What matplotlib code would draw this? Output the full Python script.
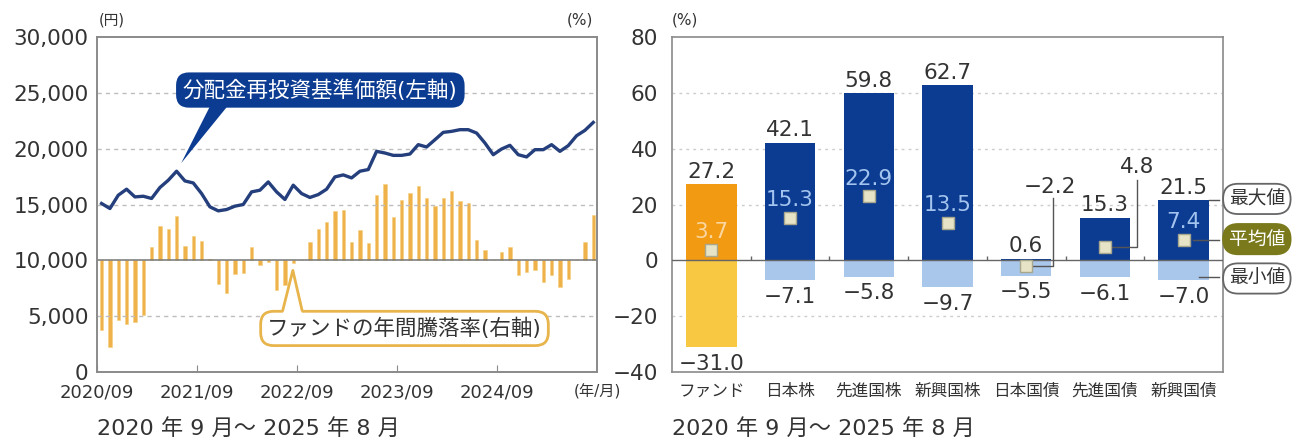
import numpy as np
import matplotlib
matplotlib.use("Agg")
import matplotlib.pyplot as plt
from matplotlib.patches import Polygon

plt.rcParams['font.family'] = ['DejaVu Sans', 'Noto Sans CJK JP']

# ---- left chart data (monthly, 2020/09 - 2025/08) ----
nav = [15090, 14640, 15830, 16370, 15680, 15740, 15540, 16520, 17170, 17980,
       17110, 16930, 15980, 14790, 14430, 14550, 14850, 15000, 16130, 16280,
       17020, 16130, 15450, 16730, 15980, 15630, 15890, 16370, 17470, 17650,
       17380, 17980, 18130, 19760, 19610, 19400, 19400, 19520, 20360, 20150,
       20800, 21460, 21550, 21700, 21700, 21400, 20510, 19460, 19970, 20300,
       19460, 19260, 19910, 19910, 20360, 19760, 20270, 21160, 21640, 22350]
ret = [-25.1, -31.0, -21.5, -22.7, -22.0, -19.7, 4.6, 12.3, 11.1, 15.8,
       5.2, 8.8, 7.0, 0.3, -8.6, -11.6, -4.8, -4.6, 4.8, -1.5,
       -0.5, -10.8, -9.0, -0.8, 0.2, 6.7, 11.4, 13.7, 17.7, 18.0,
       6.7, 10.9, 6.1, 23.5, 27.2, 15.7, 21.7, 24.1, 26.5, 22.3,
       19.3, 22.3, 24.7, 21.1, 20.5, 7.3, 3.6, 0.2, 3.0, 4.8,
       -5.4, -4.2, -3.6, -7.8, -5.4, -9.6, -6.6, 0.2, 6.7, 16.1]
xtick_pos = [0, 12, 24, 36, 48]
xtick_lab = ['2020/09', '2021/09', '2022/09', '2023/09', '2024/09']

# ---- right chart data ----
cats = ['ファンド', '日本株', '先進国株', '新興国株', '日本国債', '先進国債', '新興国債']
max_v = [27.2, 42.1, 59.8, 62.7, 0.6, 15.3, 21.5]
mean_v = [3.7, 15.3, 22.9, 13.5, -2.2, 4.8, 7.4]
min_v = [-31.0, -7.1, -5.8, -9.7, -5.5, -6.1, -7.0]

W, H = 1303, 443
fig = plt.figure(figsize=(W / 100, H / 100), dpi=100)
fig.patch.set_facecolor('white')

GRAY = '#8a8a8a'
TXT = '#333333'
NAVY = '#243f7c'
BLUE = '#0c3c92'
LBLUE = '#a9c7eb'
ORANGE = '#f29a12'
YELLOW = '#f8c843'
BARY = '#efb24a'


def fmt(v):
    return f'{v:.1f}'.replace('-', '\u2212')


# ================= left chart =================
ax1 = fig.add_axes([97 / W, (H - 372) / H, 500 / W, 335 / H])
ax1r = ax1.twinx()
ax1.set_zorder(2)
ax1r.set_zorder(1)
ax1.patch.set_visible(False)

months = np.arange(len(nav)) + 0.55
ax1r.bar(months, ret, width=0.42, color=BARY, edgecolor='#f6cf80', linewidth=0.4)
ax1r.axhline(0, color='#777777', lw=1.1, zorder=3)
ax1r.set_ylim(-40, 80)
ax1r.set_yticks([])

ax1.plot(months, nav, color=NAVY, lw=2.4, zorder=4, solid_joinstyle='round')
ax1.set_xlim(0, 60)
ax1.set_ylim(0, 30000)
ax1.set_yticks(np.arange(0, 30001, 5000))
ax1.set_yticklabels([f'{v:,}' for v in range(0, 30001, 5000)])
for v in [5000, 15000, 20000, 25000]:
    ax1.axhline(v, color='#bdbdbd', lw=1, ls=(0, (3, 3)), zorder=1)
ax1.set_xticks(xtick_pos)
ax1.set_xticklabels(xtick_lab)
ax1.tick_params(axis='y', length=0, labelsize=15.5, pad=6, colors=TXT)
ax1.tick_params(axis='x', direction='in', length=5, color=GRAY, labelsize=13,
                pad=8, labelcolor=TXT)
for ax in (ax1, ax1r):
    for s in ax.spines.values():
        s.set_color(GRAY)
        s.set_linewidth(1.2)

ax1.text(60, -1750, '(年/月)', ha='center', va='center', fontsize=11, color=TXT, clip_on=False)
ax1.text(0.2, 31500, '(円)', ha='left', va='center', fontsize=10.5, color=TXT, clip_on=False)
ax1.text(59.5, 31500, '(%)', ha='right', va='center', fontsize=11, color=TXT, clip_on=False)

# callout: NAV line
ax1.add_patch(Polygon([(13.9, 24300), (16.2, 24300), (10.1, 18700)], closed=True,
                      fc=BLUE, ec='none', zorder=5))
ax1.text(26.8, 25250, '分配金再投資基準価額(左軸)', ha='center', va='center', fontsize=15.5,
         color='white', zorder=6,
         bbox=dict(boxstyle='round,pad=0.32,rounding_size=0.6', fc=BLUE, ec='none'))

# callout: annual return bars
ax1.text(36.9, 3900, 'ファンドの年間騰落率(右軸)', ha='center', va='center', fontsize=15.5,
         color=TXT, zorder=6,
         bbox=dict(boxstyle='round,pad=0.3,rounding_size=0.6', fc='white', ec='#e8b44c', lw=2))
ax1.add_patch(Polygon([(22.3, 5250), (24.6, 5250), (23.5, 9100)], closed=True,
                      fc='white', ec='none', zorder=7))
ax1.plot([22.3, 23.5, 24.6], [5550, 9100, 5550], color='#e8b44c', lw=2, zorder=8)

fig.text(97 / W, 1 - 428 / H, '2020 年 9 月～ 2025 年 8 月', ha='left', va='center',
         fontsize=16, color=TXT)

# ================= right chart =================
ax2 = fig.add_axes([672 / W, (H - 372) / H, 551 / W, 335 / H])
x = np.arange(len(cats))
ax2.set_xlim(-0.5, 6.5)
ax2.set_ylim(-40, 80)
max_cols = [ORANGE] + [BLUE] * 6
min_cols = [YELLOW] + [LBLUE] * 6
bw = 0.64
ax2.bar(x, max_v, width=bw, color=max_cols, zorder=2)
ax2.bar(x, min_v, width=bw, color=min_cols, zorder=2)
for v in [20, 40, 60, -20]:
    ax2.axhline(v, color='#cccccc', lw=1, ls=(0, (2, 3)), zorder=1)
ax2.axhline(0, color='#666666', lw=1, zorder=3)
ax2.vlines(x[:-1] + 0.5, 0, 1.6, color='#666666', lw=1, zorder=3)
ax2.plot(x, mean_v, 's', ms=8.5, mfc='#e6e3c6', mec='#a8a68c', mew=1, zorder=5)

for i in range(len(cats)):
    ax2.text(x[i], max_v[i] + 2.3, fmt(max_v[i]), ha='center', va='baseline',
             fontsize=15.5, color=TXT, zorder=6)
    ax2.text(x[i], min_v[i] - 2.4, fmt(min_v[i]), ha='center',
             va='top', fontsize=15.5, color=TXT, zorder=6)
    if i == 0:
        ax2.text(x[i], mean_v[i] + 4.4, fmt(mean_v[i]), ha='center', va='baseline',
                 fontsize=15.5, color='#fad6a0', zorder=6)
    elif i in (1, 2, 3, 6):
        ax2.text(x[i], mean_v[i] + 4.2, fmt(mean_v[i]), ha='center', va='baseline',
                 fontsize=15.5, color='#a3c4ee', zorder=6)

# leader labels for bond means
ax2.plot([4.08, 4.34, 4.34], [mean_v[4], mean_v[4], 22.4], color='#555555', lw=1, zorder=4)
ax2.text(4.30, 24.2, fmt(mean_v[4]), ha='center', va='baseline',
         fontsize=15.5, color=TXT, zorder=6)
ax2.plot([5.08, 5.41, 5.41], [mean_v[5], mean_v[5], 28.9], color='#555555', lw=1, zorder=4)
ax2.text(5.41, 31.4, fmt(mean_v[5]), ha='center', va='baseline',
         fontsize=15.5, color=TXT, zorder=6)

# side legend tags
ax2.plot([6.32, 6.45], [21.7, 21.7], color='#555555', lw=1, clip_on=False)
ax2.plot([6.12, 6.45], [mean_v[6], mean_v[6]], color='#555555', lw=1, clip_on=False, zorder=4)
ax2.plot([6.2, 6.45], [-5.9, -5.9], color='#555555', lw=1, clip_on=False)
tag_kw = dict(ha='center', va='center', fontsize=13.5, clip_on=False, zorder=7)
ax2.text(6.93, 22.0, '最大値', color=TXT,
         bbox=dict(boxstyle='round,pad=0.3,rounding_size=0.8', fc='white', ec='#666666', lw=1.3),
         **tag_kw)
ax2.text(6.93, 7.6, '平均値', color='white',
         bbox=dict(boxstyle='round,pad=0.3,rounding_size=0.8', fc='#7a7a1c', ec='#7a7a1c', lw=1.3),
         **tag_kw)
ax2.text(6.93, -6.5, '最小値', color=TXT,
         bbox=dict(boxstyle='round,pad=0.3,rounding_size=0.8', fc='white', ec='#666666', lw=1.3),
         **tag_kw)

ax2.set_xticks(x)
ax2.set_xticklabels(cats)
ax2.set_yticks(np.arange(-40, 81, 20))
ax2.set_yticklabels([f'{v}'.replace('-', '\u2212') for v in range(-40, 81, 20)])
ax2.tick_params(axis='x', length=0, labelsize=12, pad=7, colors=TXT)
ax2.tick_params(axis='y', length=0, labelsize=15.5, pad=10, colors=TXT)
for s in ax2.spines.values():
    s.set_color(GRAY)
    s.set_linewidth(1.2)
ax2.text(-0.5, 86, '(%)', ha='left', va='center', fontsize=11, color=TXT, clip_on=False)

fig.text(672 / W, 1 - 428 / H, '2020 年 9 月～ 2025 年 8 月', ha='left', va='center',
         fontsize=16, color=TXT)

fig.savefig('out.png', dpi=100, facecolor='white')
